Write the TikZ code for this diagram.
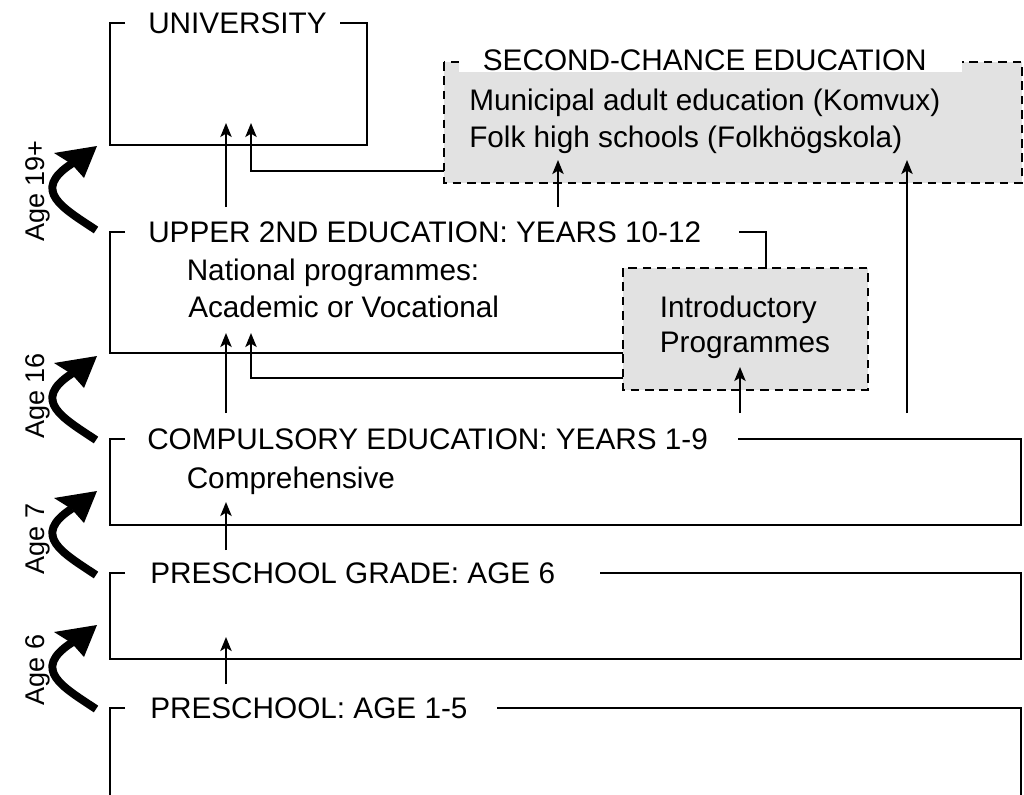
\documentclass[tikz,border=0pt]{standalone}
\usepackage{fontspec}
\setmainfont{Liberation Sans}
\usetikzlibrary{arrows.meta}
\definecolor{boxgrey}{HTML}{E2E2E2}
\begin{document}
\begin{tikzpicture}[x=0.75pt,y=-0.75pt,
  line/.style={line width=1.4pt},
  arr/.style={line width=1.4pt, -{Stealth[length=10.5pt,width=8.5pt,inset=2.5pt]}},
  dbox/.style={line width=1.4pt, dash pattern=on 6.5pt off 4.3pt, fill=boxgrey},
  lbl/.style={inner sep=0pt, anchor=base west, font=\fontsize{22.3}{26}\selectfont},
  agelbl/.style={inner sep=0pt, rotate=90, font=\fontsize{20.3}{24}\selectfont},
  agebody/.style={line width=6pt},
  agehead/.style={fill=black},
]
\useasboundingbox (0,0) rectangle (1024,794);
\fill[white] (0,0) rectangle (1024,794);

% University
\draw[line] (125,23) -- (110,23) -- (110,145) -- (367,145) -- (367,23) -- (340,23);
\node[lbl] (uni) at (148,33.6) {UNIVERSITY};

% Second-chance education
\draw[dbox] (444,62) rectangle (1022,183);
\fill[white] (459,55) rectangle (962,72);
\node[lbl] (sct) at (482.6,70.6) {SECOND-CHANCE EDUCATION};
\node[lbl] (muni) at (469,110) {Municipal adult education (Komvux)};
\node[lbl] (folk) at (469,147) {Folk high schools (Folkhögskola)};

% Upper secondary
\draw[line] (125,232) -- (110,232) -- (110,353) -- (623,353);
\draw[line] (739,232) -- (766,232) -- (766,268);
\node[lbl] (upper) at (148,242.6) {UPPER 2ND EDUCATION: YEARS 10-12};
\node[lbl] (nat) at (186.5,280) {National programmes:};
\node[lbl] (acad) at (188,317) {Academic or Vocational};

% Introductory programmes
\draw[dbox] (623,268) rectangle (868,390);
\node[lbl] (intro1) at (659.5,317) {Introductory};
\node[lbl] (intro2) at (659.5,352) {Programmes};

% Compulsory
\draw[line] (125,439) -- (110,439) -- (110,525) -- (1021,525) -- (1021,439) -- (738,439);
\node[lbl] (comp) at (147,449.6) {COMPULSORY EDUCATION: YEARS 1-9};
\node[lbl] (compr) at (186.5,488) {Comprehensive};

% Preschool grade
\draw[line] (125,573) -- (110,573) -- (110,659) -- (1021,659) -- (1021,573) -- (600,573);
\node[lbl] (pg) at (150,583.6) {PRESCHOOL GRADE: AGE 6};

% Preschool
\draw[line] (125,708) -- (110,708) -- (110,797);
\draw[line] (1021,797) -- (1021,708) -- (497,708);
\node[lbl] (ps) at (150,718.6) {PRESCHOOL: AGE 1-5};

% connectors
\coordinate (a1s) at (226,207); \coordinate (a1e) at (226,123);
\coordinate (a2s) at (444,171); \coordinate (a2e) at (251,123);
\coordinate (a3s) at (558,207); \coordinate (a3e) at (558,160);
\coordinate (a4s) at (226,413); \coordinate (a4e) at (226,333);
\coordinate (a5s) at (623,378); \coordinate (a5e) at (251,333);
\coordinate (a6s) at (740,413); \coordinate (a6e) at (740,367);
\coordinate (a7s) at (907,413); \coordinate (a7e) at (907,160);
\coordinate (a8s) at (226,550); \coordinate (a8e) at (226,502);
\coordinate (a9s) at (226,684); \coordinate (a9e) at (226,637);
\draw[arr] (a1s) -- (a1e);
\draw[arr] (a2s) -| (a2e);
\draw[arr] (a3s) -- (a3e);
\draw[arr] (a4s) -- (a4e);
\draw[arr] (a5s) -| (a5e);
\draw[arr] (a6s) -- (a6e);
\draw[arr] (a7s) -- (a7e);
\draw[arr] (a8s) -- (a8e);
\draw[arr] (a9s) -- (a9e);

% age arrows
\foreach \t in {230,440,575,709} {
  \draw[agebody] (96,\t) .. controls (63,\t-22) and (30.25,\t-39.5) .. (72,\t-66.5);
  \fill[agehead] (97,\t-84) -- (54,\t-77) -- (71.6,\t-66) -- (84,\t-52) -- cycle;
}
\node[agelbl] (age19) at (37.5,191) {Age 19+};
\node[agelbl] (age16) at (37.5,396) {Age 16};
\node[agelbl] (age7) at (37.5,539) {Age 7};
\node[agelbl] (age6) at (37.5,670) {Age 6};
\end{tikzpicture}
\end{document}
